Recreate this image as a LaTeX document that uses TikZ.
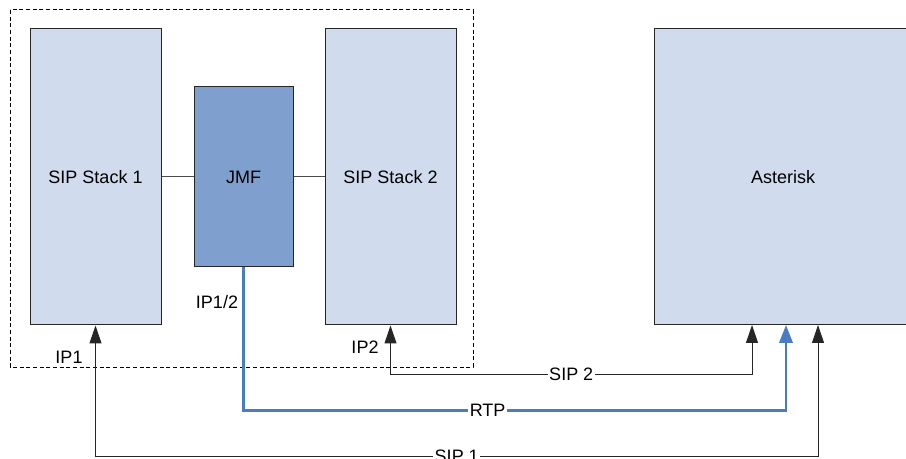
\documentclass[tikz,border=0pt]{standalone}
\usepackage{fontspec}
\setmainfont{Liberation Sans}
\usetikzlibrary{arrows.meta}
\definecolor{boxfill}{HTML}{D0DCED}
\definecolor{jmffill}{HTML}{7F9FCE}
\definecolor{rtpblue}{HTML}{4A7CC4}
\begin{document}
\begin{tikzpicture}[x=0.75pt,y=-0.75pt,
    font=\fontsize{13.5}{16}\selectfont,
    box/.style={draw=black!85, line width=0.75pt, fill=boxfill, inner sep=0pt,
      minimum width=98.25pt, minimum height=222pt},
    wire/.style={draw=black!70, line width=0.75pt},
    sig/.style={black!85, line width=0.75pt,
      {Triangle[length=13.5pt,width=9pt]}-{Triangle[length=13.5pt,width=9pt]}},
    rtp/.style={rtpblue, line width=2pt, -{Triangle[length=13.5pt,width=10pt]}},
    lbl/.style={fill=white, text=black, inner sep=1pt}]
    \path[use as bounding box] (0,0) rectangle (906,459);
    \clip (0,0) rectangle (906,459);

    \draw[dash pattern=on 3pt off 2pt, line width=0.75pt] (10,10) rectangle (473,367);

    \node[box] (stack1) at (95.5,177) {SIP Stack 1};
    \node[box, fill=jmffill, minimum width=74.25pt, minimum height=135pt] (jmf) at (243.5,177) {JMF};
    \node[box] (stack2) at (390.5,177) {SIP Stack 2};
    \node[box, minimum width=193.5pt] (asterisk) at (783,177) {Asterisk};

    \draw[wire] (stack1) -- (jmf);
    \draw[wire] (jmf) -- (stack2);

    \coordinate (sip1in) at (818,325);
    \coordinate (rtpin) at (786,325);
    \coordinate (sip2in) at (752,325);

    \draw[sig] (stack1.south) -- (95.5,456) -- node[lbl] {SIP 1} (818,456) -- (sip1in);
    \draw[sig] (stack2.south) -- (390.5,374) -- node[lbl] {SIP 2} (752,374) -- (sip2in);
    \draw[rtp] (jmf.south) -- (243.5,410.5) -- node[lbl, pos=0.45] {RTP} (786,410.5) -- (rtpin);

    \node (ip1) at (69,357) {IP1};
    \node (ip12) at (217,302) {IP1/2};
    \node (ip2) at (365,347) {IP2};
\end{tikzpicture}
\end{document}
